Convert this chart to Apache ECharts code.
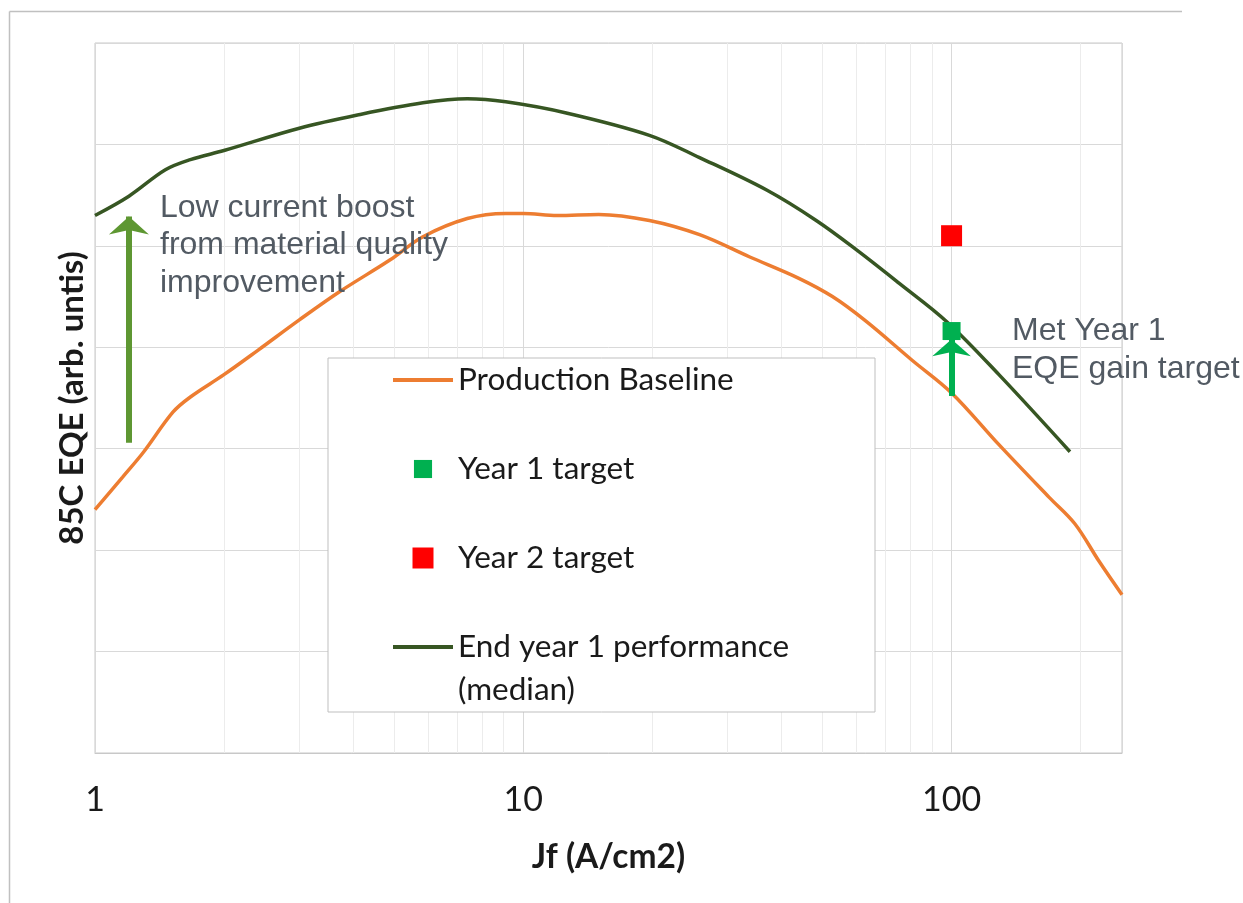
<!DOCTYPE html>
<html>
<head>
<meta charset="utf-8">
<script src="https://cdn.jsdelivr.net/npm/echarts@6/dist/echarts.min.js"></script>
<style>
  html, body { margin: 0; padding: 0; background: #fff; }
  #chart { width: 1243px; height: 903px; }
</style>
</head>
<body>
<div id="chart"></div>
<script>
// Current density (A/cm2) sample points and relative EQE at 85C
const jfBaseline = [1, 1.16, 1.3, 1.52, 1.67, 2, 2.4, 3, 3.73, 4.88, 5.83, 7.4, 9.1, 10, 12, 15, 19.7, 25.8, 33.8, 44, 52.7, 63, 81, 100, 129, 169, 194, 221, 250];
const eqeBaseline = [2.40, 2.72, 2.97, 3.36, 3.51, 3.73, 3.97, 4.27, 4.55, 4.86, 5.09, 5.27, 5.32, 5.32, 5.30, 5.31, 5.25, 5.11, 4.89, 4.68, 4.50, 4.26, 3.87, 3.55, 3.04, 2.52, 2.26, 1.89, 1.56];

const jfEndYear1 = [1, 1.2, 1.46, 1.67, 2, 3, 4.1, 5.83, 7.4, 9.1, 12.6, 19.7, 25.8, 37, 48.3, 60, 75.5, 97.6, 129, 189];
const eqeEndYear1 = [5.30, 5.49, 5.75, 5.85, 5.94, 6.16, 6.29, 6.41, 6.45, 6.42, 6.31, 6.09, 5.87, 5.55, 5.25, 4.96, 4.63, 4.25, 3.73, 2.97];

const year1Target = [100, 4.16];
const year2Target = [100, 5.10];

// Arrows: [jf, eqe at tail, eqe at tip]
const boostArrow = [1.2, 3.06, 5.29];
const gainArrow = [100, 3.52, 4.08];

// Light vertical lines at the intermediate decade values
const minorJf = [2, 3, 4, 5, 6, 7, 8, 9, 20, 30, 40, 50, 60, 70, 80, 90, 200];

const seriesNames = ['Production Baseline', 'Year 1 target', 'Year 2 target', 'End year 1 performance (median)'];

const zip = (xs, ys) => xs.map((x, i) => [x, ys[i]]);

const chart = echarts.init(document.getElementById('chart'), null, { renderer: 'canvas' });

const uiFont = 'Lato';
const noteFont = '32px "Liberation Sans", Arial, sans-serif';
const lineIcon = 'path://M0,0L60,0L60,4L0,4Z';
const squareIcon = 'path://M0,0L10,0L10,10L0,10Z';
// same square with a little empty margin, so it draws slightly smaller
const smallSquareIcon = 'path://M-0.8,-0.8L-0.8,-0.8M10.8,10.8L10.8,10.8M0,0L10,0L10,10L0,10Z';
const plainIconStyle = { borderWidth: 0, borderColor: 'transparent', opacity: 1 };

const option = {
  animation: false,
  backgroundColor: '#ffffff',
  grid: {
    left: 95, right: 121, top: 43, bottom: 150,
    show: true, borderColor: '#c8c8c8', borderWidth: 1, backgroundColor: 'transparent'
  },
  xAxis: {
    type: 'log',
    logBase: 10,
    min: 1,
    max: 250,
    name: 'Jf (A/cm2)',
    nameLocation: 'middle',
    nameGap: 87,
    nameTextStyle: { fontFamily: uiFont, fontWeight: 'bold', fontSize: 33.5, color: '#1a1a1a' },
    axisLine: { show: true, lineStyle: { color: '#c8c8c8', width: 1 } },
    axisTick: { show: false },
    axisLabel: {
      show: true, margin: 30, showMaxLabel: false,
      fontFamily: uiFont, fontSize: 34, color: '#1a1a1a',
      formatter: v => String(Math.round(v))
    },
    splitLine: { show: true, lineStyle: { color: '#d9d9d9', width: 1 } }
  },
  yAxis: {
    type: 'value',
    min: 0, max: 7, interval: 1,
    name: '85C EQE (arb. untis)',
    nameLocation: 'middle',
    nameRotate: 90,
    nameGap: 6,
    nameTextStyle: { fontFamily: uiFont, fontWeight: 'bold', fontSize: 33, color: '#1a1a1a' },
    axisLine: { show: false },
    axisTick: { show: false },
    axisLabel: { show: false },
    splitLine: { show: true, lineStyle: { color: '#d9d9d9', width: 1 } }
  },
  legend: {
    orient: 'vertical',
    left: 328, top: 358,
    padding: [0, 17, 43, 65],
    itemGap: 45,
    itemWidth: 60,
    itemHeight: 21,
    symbolKeepAspect: true,
    selectedMode: false,
    backgroundColor: '#ffffff',
    borderColor: '#bfbfbf',
    borderWidth: 1,
    z: 6,
    textStyle: { fontFamily: uiFont, fontSize: 31.5, color: '#1a1a1a', lineHeight: 44, width: 400 },
    data: [
      { name: seriesNames[0], icon: lineIcon, itemStyle: plainIconStyle },
      { name: seriesNames[1], icon: smallSquareIcon, itemStyle: plainIconStyle },
      { name: seriesNames[2], icon: squareIcon, itemStyle: plainIconStyle },
      { name: seriesNames[3], icon: lineIcon, itemStyle: plainIconStyle }
    ],
    formatter: name => name.replace(' (median)', '')
  },
  graphic: [
    { type: 'line', shape: { x1: 9.5, y1: 11.5, x2: 1182, y2: 11.5 }, style: { stroke: '#c0c0c0', lineWidth: 1.5 }, silent: true },
    { type: 'line', shape: { x1: 9.5, y1: 11.5, x2: 9.5, y2: 903 }, style: { stroke: '#c0c0c0', lineWidth: 1.5 }, silent: true },
    {
      // second line of the last legend entry
      type: 'text', left: 458, top: 668, silent: true, z: 20,
      style: { text: '(median)', font: '31.5px Lato', lineHeight: 44, fill: '#1a1a1a' }
    },
    {
      type: 'text', left: 160, top: 189, silent: true, z: 10,
      style: {
        text: 'Low current boost\nfrom material quality\nimprovement',
        font: noteFont, lineHeight: 37.5, fill: '#525a63'
      }
    },
    {
      type: 'text', left: 1012, top: 312, silent: true, z: 10,
      style: {
        text: 'Met Year 1\nEQE gain target',
        font: noteFont, lineHeight: 38, fill: '#525a63'
      }
    }
  ],
  series: [
    {
      name: 'minor-grid',
      type: 'line',
      data: [],
      z: 0,
      silent: true,
      markLine: {
        z: 0,
        silent: true,
        symbol: ['none', 'none'],
        label: { show: false },
        emphasis: { disabled: true },
        lineStyle: { color: '#ececec', width: 1, type: 'solid' },
        data: minorJf.map(v => ({ xAxis: v }))
      }
    },
    {
      name: seriesNames[0],
      type: 'line',
      data: zip(jfBaseline, eqeBaseline),
      smooth: 0.35,
      symbol: 'none',
      lineStyle: { color: '#ed7d31', width: 3.5 },
      itemStyle: { color: '#ed7d31' },
      z: 2
    },
    {
      name: seriesNames[3],
      type: 'line',
      data: zip(jfEndYear1, eqeEndYear1),
      smooth: 0.35,
      symbol: 'none',
      lineStyle: { color: '#375623', width: 3.5 },
      itemStyle: { color: '#375623' },
      z: 3
    },
    {
      name: 'arrows',
      type: 'line',
      data: [],
      z: 3,
      silent: true,
      markLine: {
        z: 4,
        silent: true,
        label: { show: false },
        emphasis: { disabled: true },
        data: [
          [
            { coord: [boostArrow[0], boostArrow[1]], symbol: 'none', lineStyle: { color: '#5e9732', width: 6, type: 'solid' } },
            { coord: [boostArrow[0], boostArrow[2]], symbol: 'arrow', symbolSize: [30, 18], lineStyle: { color: '#5e9732', width: 6, type: 'solid' } }
          ],
          [
            { coord: [gainArrow[0], gainArrow[1]], symbol: 'none', lineStyle: { color: '#00b050', width: 6, type: 'solid' } },
            { coord: [gainArrow[0], gainArrow[2]], symbol: 'arrow', symbolSize: [29, 17], lineStyle: { color: '#00b050', width: 6, type: 'solid' } }
          ]
        ]
      }
    },
    {
      name: seriesNames[1],
      type: 'scatter',
      data: [year1Target],
      symbol: 'rect',
      symbolSize: 18,
      itemStyle: { color: '#00b050', opacity: 1 },
      z: 5
    },
    {
      name: seriesNames[2],
      type: 'scatter',
      data: [year2Target],
      symbol: 'rect',
      symbolSize: 21,
      itemStyle: { color: '#ff0000', opacity: 1 },
      z: 5
    }
  ]
};

chart.setOption(option);
</script>
</body>
</html>
